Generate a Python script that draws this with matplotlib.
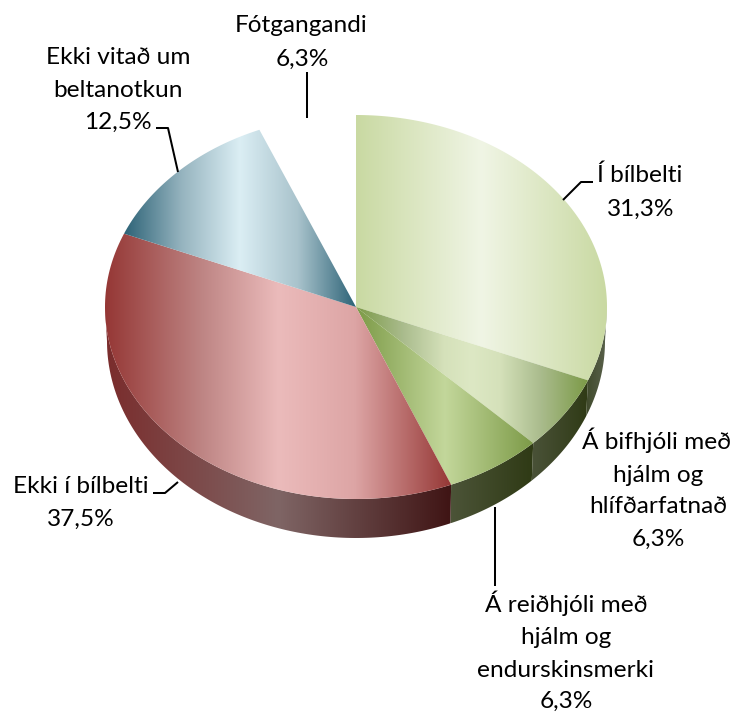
import numpy as np
import matplotlib
matplotlib.use("Agg")
import matplotlib.pyplot as plt
from matplotlib.colors import LinearSegmentedColormap
from matplotlib.patches import Polygon

categories = ["Í bílbelti", "Á bifhjóli með hjálm og hlífðarfatnað",
              "Á reiðhjóli með hjálm og endurskinsmerki", "Ekki í bílbelti",
              "Ekki vitað um beltanotkun", "Fótgangandi"]
values = [31.3, 6.3, 6.3, 37.5, 12.5, 6.3]

top_stops = [
    [(0, "#C9D9A2"), (0.5, "#F0F5E5"), (1, "#C9D9A2")],
    [(0, "#7C9A47"), (0.2, "#A9BB8C"), (0.38, "#D5E1BA"), (0.5, "#DDE8C4"), (0.62, "#D5E1BA"), (0.8, "#A9BB8C"), (1, "#7C9A47")],
    [(0, "#7C9A47"), (0.5, "#C3D79B"), (1, "#7C9A47")],
    [(0, "#953735"), (0.28, "#BE8584"), (0.5, "#EBBBBB"), (0.72, "#DDA5A5"), (1, "#953735")],
    [(0, "#2D6377"), (0.25, "#96B4BF"), (0.5, "#DBEEF4"), (0.75, "#A9C3CC"), (1, "#2D6377")],
    None,
]
side_stops = [
    [(0, "#404A2C"), (1, "#5A624C")],
    [(0, "#4A5238"), (1, "#2F3A15")],
    [(0, "#4C5438"), (1, "#2F3A15")],
    [(0, "#7A2C2C"), (0.5, "#7F6565"), (1, "#3F1414")],
    None,
    None,
]

W, H = 737, 714
fig = plt.figure(figsize=(W / 100, H / 100), dpi=100)
ax = fig.add_axes([0, 0, 1, 1])
ax.set_xlim(0, W)
ax.set_ylim(H, 0)
ax.axis("off")

CX, CY, RX, RY = 356, 307, 251, 192
BCX, BCY, BRX, BRY = 356, 341, 249, 197


def arc(a0, a1, cx, cy, rx, ry, n=120):
    t = np.radians(np.linspace(a0, a1, n))
    return np.column_stack([cx + rx * np.sin(t), cy - ry * np.cos(t)])


def fill(poly, stops, z):
    cmap = LinearSegmentedColormap.from_list("g", stops, N=512)
    x0, x1 = poly[:, 0].min(), poly[:, 0].max()
    y0, y1 = poly[:, 1].min(), poly[:, 1].max()
    im = ax.imshow(np.linspace(0, 1, 512)[None, :], cmap=cmap, vmin=0, vmax=1,
                   extent=[x0, x1, y1, y0], aspect="auto", interpolation="bilinear", zorder=z)
    patch = Polygon(poly, closed=True, transform=ax.transData, fc="none", ec="none")
    ax.add_patch(patch)
    im.set_clip_path(patch)


edges = np.concatenate([[0], np.cumsum(values)]) / np.sum(values) * 360

for i, st in enumerate(side_stops):
    a0, a1 = max(edges[i], 90), min(edges[i + 1], 270)
    if st is None or a1 <= a0:
        continue
    poly = np.vstack([arc(a0, a1, CX, CY, RX, RY), arc(a1, a0, BCX, BCY, BRX, BRY)])
    fill(poly, st, 1)

for i, st in enumerate(top_stops):
    if st is None:
        continue
    poly = np.vstack([[[CX, CY]], arc(edges[i], edges[i + 1], CX, CY, RX, RY)])
    fill(poly, st, 2)

ax.set_xlim(0, W)
ax.set_ylim(H, 0)


def pct(i):
    return f"{values[i]:.1f}".replace(".", ",") + "%"


FS = 17.6
labels = [
    ("Fótgangandi", 301, 32), (pct(5), 302, 66),
    ("Ekki vitað um", 118, 64), ("beltanotkun", 118, 97), (pct(4), 118, 129),
    ("Í bílbelti", 640, 182), (pct(0), 641, 216),
    ("Á bifhjóli með", 657, 449), ("hjálm og", 658, 482), ("hlífðarfatnað", 658, 513), (pct(1), 658, 546),
    ("Á reiðhjóli með", 566, 612), ("hjálm og", 566, 644), ("endurskinsmerki", 566, 677), (pct(2), 566, 708),
    ("Ekki í bílbelti", 81, 493), (pct(3), 81, 526),
]
for s, x, y in labels:
    ax.text(x, y, s, ha="center", va="baseline", fontsize=FS, family=["Lato", "DejaVu Sans"], color="black", zorder=5)

leaders = [
    [(307, 72), (307, 118)],
    [(563, 200), (581, 182), (593, 182)],
    [(178, 172), (168, 128), (156, 128)],
    [(178, 482), (165, 493), (153, 493)],
    [(495, 507), (495, 586)],
]
for pts in leaders:
    p = np.array(pts)
    ax.plot(p[:, 0], p[:, 1], color="black", lw=1.45, solid_capstyle="butt", zorder=4)

fig.savefig("out.png", dpi=100, facecolor="white")
